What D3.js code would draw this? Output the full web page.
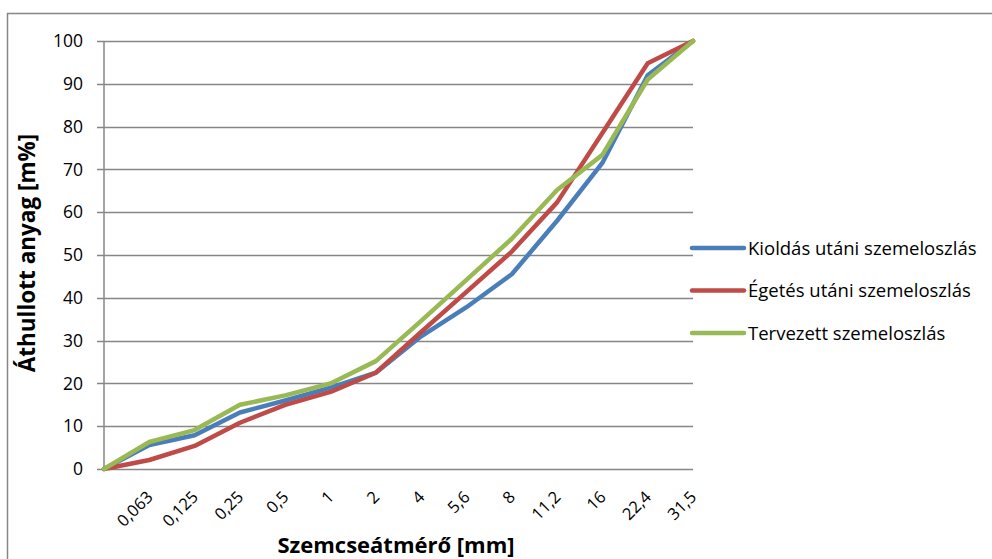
<!DOCTYPE html>
<html>
<head>
<meta charset="utf-8">
<script src="https://cdn.jsdelivr.net/npm/d3@7"></script>
<style>
  html, body { margin: 0; padding: 0; background: #fff; }
  svg { display: block; }
  text { font-family: "Open Sans", "Noto Sans", sans-serif; fill: #000; }
</style>
</head>
<body>
<svg id="chart" width="992" height="559"></svg>
<script>
// Sieve sizes (mm), first point is the origin
const categories = ["", "0,063", "0,125", "0,25", "0,5", "1", "2", "4", "5,6", "8", "11,2", "16", "22,4", "31,5"];

// Passing material (m%) per sieve
const kioldas = [0, 5.6, 7.9, 13.2, 16, 19, 22.5, 31, 37.8, 45.5, 58, 71.5, 92, 100];
const egetes  = [0, 2.1, 5.4, 10.8, 15, 18, 22.5, 32, 41.4, 50.8, 62.3, 78.5, 94.8, 100];
const tervezett = [0, 6.3, 9.1, 15, 17.2, 20, 25.2, 34.6, 44.2, 53.8, 65.2, 73.4, 91, 100];

const yTicks = [0, 10, 20, 30, 40, 50, 60, 70, 80, 90, 100];

const seriesNames = ["Kioldás utáni szemeloszlás", "Égetés utáni szemeloszlás", "Tervezett szemeloszlás"];
const seriesColors = ["#4a7ebb", "#be4b48", "#98b954"];
const seriesData = [kioldas, egetes, tervezett];

const svg = d3.select("#chart");

// outer chart border
svg.append("rect")
  .attr("x", 7.5).attr("y", 13.5)
  .attr("width", 1000).attr("height", 600)
  .attr("fill", "none").attr("stroke", "#868686").attr("stroke-width", 1.5);

const plotLeft = 104, plotRight = 693, plotTop = 41, plotBottom = 469;

const x = d3.scalePoint().domain(d3.range(categories.length)).range([plotLeft, plotRight]);
const y = d3.scaleLinear().domain([0, 100]).range([plotBottom, plotTop]);

// y tick labels
const yAxis = d3.axisLeft(y).tickValues(yTicks).tickSize(0).tickPadding(21).tickFormat(d3.format("d"));
const gy = svg.append("g").attr("transform", `translate(${plotLeft},0)`).call(yAxis);
gy.select(".domain").remove();
gy.selectAll("text").attr("font-size", 17.5).attr("fill", "#000");

// horizontal gridlines
svg.append("g").selectAll("line").data(yTicks).join("line")
  .attr("x1", plotLeft - 7).attr("x2", plotRight)
  .attr("y1", d => Math.round(y(d)) + 0.5).attr("y2", d => Math.round(y(d)) + 0.5)
  .attr("stroke", "#868686").attr("stroke-width", 1.5);

// vertical axis line
svg.append("line")
  .attr("x1", plotLeft).attr("x2", plotLeft)
  .attr("y1", plotTop).attr("y2", plotBottom)
  .attr("stroke", "#868686").attr("stroke-width", 1.5);

// category labels, rotated
const xAxis = d3.axisBottom(x).tickSize(0).tickFormat(i => categories[i]);
const gx = svg.append("g").attr("transform", `translate(0,${plotBottom})`).call(xAxis);
gx.select(".domain").remove();
gx.selectAll("text")
  .attr("font-size", 16.5)
  .attr("text-anchor", "end")
  .attr("dy", 0)
  .attr("y", 0)
  .attr("transform", "translate(4,29) rotate(-45)");

// series lines
const line = d3.line().x((d, i) => x(i)).y(d => y(d));
seriesData.forEach((vals, k) => {
  svg.append("path")
    .datum(vals)
    .attr("d", line)
    .attr("fill", "none")
    .attr("stroke", seriesColors[k])
    .attr("stroke-width", 4.5)
    .attr("stroke-linejoin", "round")
    .attr("stroke-linecap", "round");
});

// legend
const legend = svg.append("g").attr("transform", "translate(690,248)");
seriesNames.forEach((name, k) => {
  const g = legend.append("g").attr("transform", `translate(0,${k * 42.5})`);
  g.append("line").attr("x1", 2).attr("x2", 54).attr("y1", 0).attr("y2", 0)
    .attr("stroke", seriesColors[k]).attr("stroke-width", 4.5).attr("stroke-linecap", "round");
  g.append("text").attr("x", 58).attr("y", 0).attr("dy", "0.36em")
    .attr("font-size", 18.5).text(name);
});

// axis titles
svg.append("text")
  .attr("x", 396).attr("y", 553)
  .attr("text-anchor", "middle")
  .attr("font-size", 22).attr("font-weight", "bold")
  .text("Szemcseátmérő [mm]");

svg.append("text")
  .attr("transform", "translate(35,253) rotate(-90)")
  .attr("text-anchor", "middle")
  .attr("font-size", 22.5).attr("font-weight", "bold")
  .text("Áthullott anyag [m%]");
</script>
</body>
</html>
